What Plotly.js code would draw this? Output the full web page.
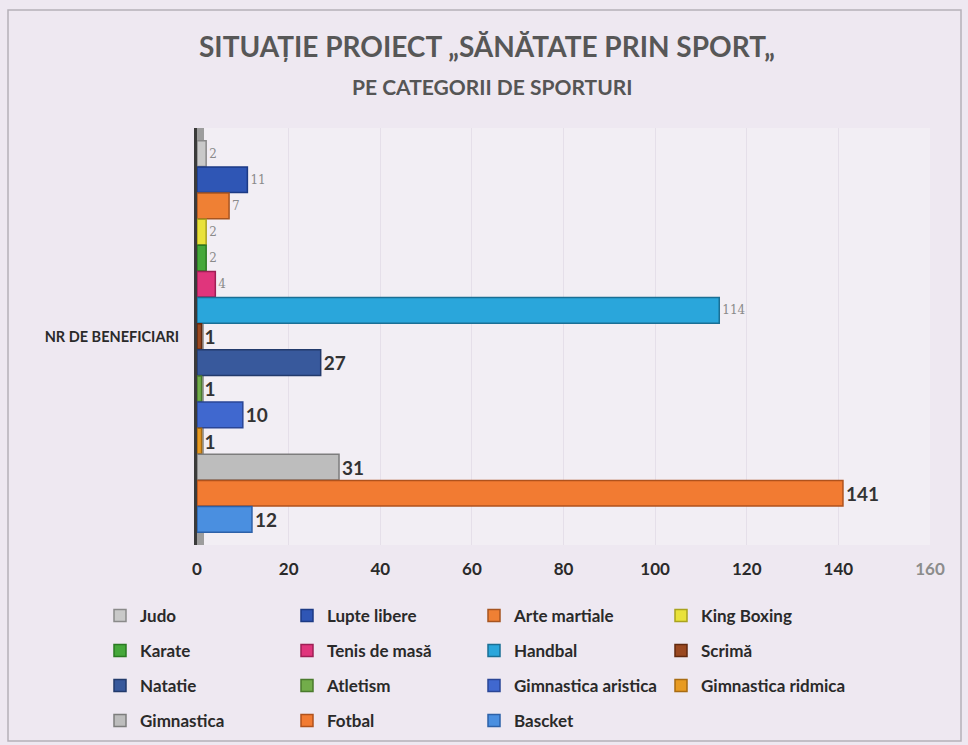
<!DOCTYPE html>
<html>
<head>
<meta charset="utf-8">
<script src="https://cdn.plot.ly/plotly-3.0.1.min.js"></script>
<style>html,body{margin:0;padding:0;background:#eee8f1;}#chart{width:968px;height:745px;}</style>
</head>
<body>
<div id="chart"></div>
<script>
// ---- data ----
const category = 'NR DE BENEFICIARI';
const sports = ['Judo', 'Lupte libere', 'Arte martiale', 'King Boxing', 'Karate', 'Tenis de masă', 'Handbal', 'Scrimă', 'Natatie', 'Atletism', 'Gimnastica aristica', 'Gimnastica ridmica', 'Gimnastica', 'Fotbal', 'Bascket'];
const beneficiari = [2, 11, 7, 2, 2, 4, 114, 1, 27, 1, 10, 1, 31, 141, 12];
const tickValues = [0, 20, 40, 60, 80, 100, 120, 140, 160];
const tickLabels = ['0', '20', '40', '60', '80', '100', '120', '140', '160'];

// ---- styles ----
const colors = ['#c9c9c9', '#2f56b5', '#ef8034', '#e9e23a', '#45a83a', '#e0357c', '#2aa6db', '#9a4820', '#38599c', '#72ad4a', '#4068cf', '#e89b22', '#bdbdbd', '#f27b32', '#4a8fe0'];
const lineColors = ['#8a8a8a', '#1c3a85', '#a65420', '#a9a21e', '#2a7a22', '#9e1f55', '#1a6f95', '#62290f', '#223a6b', '#4a7a2d', '#2a4596', '#a86b12', '#7d7d7d', '#b0521c', '#2d61a8'];
const boldLabel = [false, false, false, false, false, false, false, true, true, true, true, true, true, true, true];

const traces = sports.map((name, i) => ({
  type: 'bar',
  orientation: 'h',
  name: name,
  y: [category],
  x: [beneficiari[i]],
  text: [String(beneficiari[i])],
  textposition: 'outside',
  cliponaxis: false,
  textfont: boldLabel[i]
    ? {family: 'Lato, sans-serif', size: 19, color: '#333333', weight: 'bold'}
    : {family: 'DejaVu Serif, serif', size: 12, color: '#8a8a8a'},
  marker: {color: colors[i], line: {color: lineColors[i], width: 1.5}},
  legend: i < 4 ? 'legend' : 'legend' + (Math.floor(i / 4) + 1),
  hoverinfo: 'x+name'
}));

const plotL = 197, plotR = 930, plotT = 128, plotB = 545;
const pw = plotR - plotL, ph = plotB - plotT;
const px = x => (x - plotL) / pw;
const py = y => (plotB - y) / ph;

const legendFont = {family: 'Lato, sans-serif', size: 17, color: '#2a2a2a', weight: 'bold'};
function legendRow(yPix) {
  return {
    orientation: 'h', x: px(100), xanchor: 'left', y: py(yPix), yanchor: 'middle',
    entrywidth: 142, entrywidthmode: 'pixels', itemwidth: 30,
    font: legendFont, bgcolor: 'rgba(0,0,0,0)', traceorder: 'normal'
  };
}

const layout = {
  width: 968, height: 745,
  margin: {l: plotL, r: 968 - plotR, t: plotT, b: 745 - plotB, autoexpand: false},
  paper_bgcolor: '#eee8f1',
  plot_bgcolor: '#f2eef4',
  barmode: 'group',
  bargap: 0.06,
  bargroupgap: 0.02,
  showlegend: true,
  font: {family: 'Lato, sans-serif', color: '#333'},
  xaxis: {
    range: [0, 160], tickvals: tickValues, ticktext: tickLabels.map((t, i) => i === tickLabels.length - 1 ? '<span style="color:#8c8c8c">' + t + '</span>' : t),
    showgrid: true, gridcolor: '#e5dfe9', gridwidth: 1, zeroline: false,
    showline: false, ticks: '', ticklabelstandoff: 12,
    tickfont: {family: 'Lato, sans-serif', size: 17, color: '#2a2a2a', weight: 'bold'}
  },
  yaxis: {
    autorange: 'reversed', showgrid: false, zeroline: false,
    showline: true, linecolor: '#3a3a3a', linewidth: 3, ticks: '', ticklabelstandoff: 12,
    tickfont: {family: 'Lato, sans-serif', size: 14.5, color: '#2a2a2a', weight: 'bold'}
  },
  legend: legendRow(616),
  legend2: legendRow(651),
  legend3: legendRow(686),
  legend4: legendRow(721),
  annotations: [
    {xref: 'paper', yref: 'paper', x: px(487), y: py(46), xanchor: 'center', yanchor: 'middle', showarrow: false,
     text: 'SITUAȚIE PROIECT „SĂNĂTATE PRIN SPORT„', font: {family: 'Lato, sans-serif', size: 28, color: '#575757', weight: 'bold'}},
    {xref: 'paper', yref: 'paper', x: px(492), y: py(87), xanchor: 'center', yanchor: 'middle', showarrow: false,
     text: 'PE CATEGORII DE SPORTURI', font: {family: 'Lato, sans-serif', size: 21, color: '#555555', weight: 'bold'}}
  ],
  shapes: [
    {type: 'rect', xref: 'paper', yref: 'paper', x0: px(8), x1: px(961), y0: py(741), y1: py(10),
     line: {color: '#b5b0b8', width: 1.5}, fillcolor: 'rgba(0,0,0,0)', layer: 'below'},
    {type: 'rect', xref: 'paper', yref: 'paper', x0: px(197), x1: px(204), y0: py(545), y1: py(128),
     line: {width: 0}, fillcolor: '#9d9d9d', layer: 'below'}
  ]
};

Plotly.newPlot('chart', traces, layout, {displayModeBar: false, responsive: false});
</script>
</body>
</html>
